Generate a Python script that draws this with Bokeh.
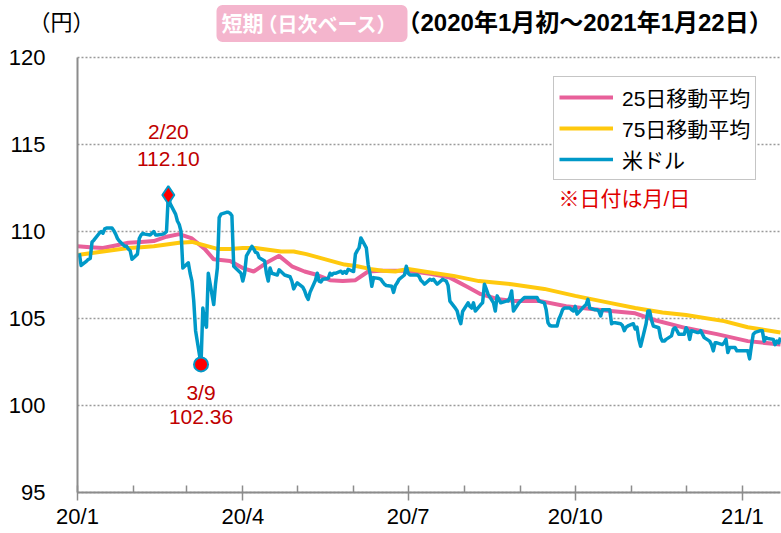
import pandas as pd
from bokeh.plotting import figure
from bokeh.models import (ColumnDataSource, Range1d, FixedTicker, Label, Legend, LegendItem)
from bokeh.embed import file_html
from bokeh.resources import INLINE

# ---------------- data ----------------
usd_dates = [
    "2020-01-02", "2020-01-03", "2020-01-06", "2020-01-07", "2020-01-08", "2020-01-09", "2020-01-10",
    "2020-01-13", "2020-01-14", "2020-01-15", "2020-01-16", "2020-01-17", "2020-01-20", "2020-01-21",
    "2020-01-22", "2020-01-23", "2020-01-24", "2020-01-27", "2020-01-28", "2020-01-29", "2020-01-30",
    "2020-01-31", "2020-02-03", "2020-02-04", "2020-02-05", "2020-02-06", "2020-02-07", "2020-02-10",
    "2020-02-11", "2020-02-12", "2020-02-13", "2020-02-14", "2020-02-17", "2020-02-18", "2020-02-19",
    "2020-02-20", "2020-02-21", "2020-02-24", "2020-02-25", "2020-02-26", "2020-02-27", "2020-02-28",
    "2020-03-02", "2020-03-03", "2020-03-04", "2020-03-05", "2020-03-06", "2020-03-09", "2020-03-10",
    "2020-03-11", "2020-03-12", "2020-03-13", "2020-03-16", "2020-03-17", "2020-03-18", "2020-03-19",
    "2020-03-20", "2020-03-23", "2020-03-24", "2020-03-25", "2020-03-26", "2020-03-27", "2020-03-30",
    "2020-03-31", "2020-04-01", "2020-04-02", "2020-04-03", "2020-04-06", "2020-04-07", "2020-04-08",
    "2020-04-09", "2020-04-10", "2020-04-13", "2020-04-14", "2020-04-15", "2020-04-16", "2020-04-17",
    "2020-04-20", "2020-04-21", "2020-04-22", "2020-04-23", "2020-04-24", "2020-04-27", "2020-04-28",
    "2020-04-29", "2020-04-30", "2020-05-01", "2020-05-04", "2020-05-05", "2020-05-06", "2020-05-07",
    "2020-05-08", "2020-05-11", "2020-05-12", "2020-05-13", "2020-05-14", "2020-05-15", "2020-05-18",
    "2020-05-19", "2020-05-20", "2020-05-21", "2020-05-22", "2020-05-25", "2020-05-26", "2020-05-27",
    "2020-05-28", "2020-05-29", "2020-06-01", "2020-06-02", "2020-06-03", "2020-06-04", "2020-06-05",
    "2020-06-08", "2020-06-09", "2020-06-10", "2020-06-11", "2020-06-12", "2020-06-15", "2020-06-16",
    "2020-06-17", "2020-06-18", "2020-06-19", "2020-06-22", "2020-06-23", "2020-06-24", "2020-06-25",
    "2020-06-26", "2020-06-29", "2020-06-30", "2020-07-01", "2020-07-02", "2020-07-03", "2020-07-06",
    "2020-07-07", "2020-07-08", "2020-07-09", "2020-07-10", "2020-07-13", "2020-07-14", "2020-07-15",
    "2020-07-16", "2020-07-17", "2020-07-20", "2020-07-21", "2020-07-22", "2020-07-23", "2020-07-24",
    "2020-07-27", "2020-07-28", "2020-07-29", "2020-07-30", "2020-07-31", "2020-08-03", "2020-08-04",
    "2020-08-05", "2020-08-06", "2020-08-07", "2020-08-10", "2020-08-11", "2020-08-12", "2020-08-13",
    "2020-08-14", "2020-08-17", "2020-08-18", "2020-08-19", "2020-08-20", "2020-08-21", "2020-08-24",
    "2020-08-25", "2020-08-26", "2020-08-27", "2020-08-28", "2020-08-31", "2020-09-01", "2020-09-02",
    "2020-09-03", "2020-09-04", "2020-09-07", "2020-09-08", "2020-09-09", "2020-09-10", "2020-09-11",
    "2020-09-14", "2020-09-15", "2020-09-16", "2020-09-17", "2020-09-18", "2020-09-21", "2020-09-22",
    "2020-09-23", "2020-09-24", "2020-09-25", "2020-09-28", "2020-09-29", "2020-09-30", "2020-10-01",
    "2020-10-02", "2020-10-05", "2020-10-06", "2020-10-07", "2020-10-08", "2020-10-09", "2020-10-12",
    "2020-10-13", "2020-10-14", "2020-10-15", "2020-10-16", "2020-10-19", "2020-10-20", "2020-10-21",
    "2020-10-22", "2020-10-23", "2020-10-26", "2020-10-27", "2020-10-28", "2020-10-29", "2020-10-30",
    "2020-11-02", "2020-11-03", "2020-11-04", "2020-11-05", "2020-11-06", "2020-11-09", "2020-11-10",
    "2020-11-11", "2020-11-12", "2020-11-13", "2020-11-16", "2020-11-17", "2020-11-18", "2020-11-19",
    "2020-11-20", "2020-11-23", "2020-11-24", "2020-11-25", "2020-11-26", "2020-11-27", "2020-11-30",
    "2020-12-01", "2020-12-02", "2020-12-03", "2020-12-04", "2020-12-07", "2020-12-08", "2020-12-09",
    "2020-12-10", "2020-12-11", "2020-12-14", "2020-12-15", "2020-12-16", "2020-12-17", "2020-12-18",
    "2020-12-21", "2020-12-22", "2020-12-23", "2020-12-24", "2020-12-25", "2020-12-28", "2020-12-29",
    "2020-12-30", "2021-01-04", "2021-01-05", "2021-01-06", "2021-01-07", "2021-01-08", "2021-01-11",
    "2021-01-12", "2021-01-13", "2021-01-14", "2021-01-15", "2021-01-18", "2021-01-19", "2021-01-20",
    "2021-01-21", "2021-01-22",
]
usd_values = [
    108.75, 108.05, 108.30, 108.40, 108.45, 109.40, 109.50,
    109.90, 110.00, 109.90, 110.15, 110.20, 110.20, 110.05,
    109.85, 109.60, 109.45, 109.15, 109.15, 109.00, 108.90,
    108.40, 108.70, 109.60, 109.80, 109.90, 109.85, 109.80,
    109.90, 110.00, 109.80, 109.80, 109.85, 109.90, 110.00,
    112.10, 111.60, 111.00, 110.60, 110.40, 110.00, 107.90,
    108.20, 107.60, 107.15, 106.00, 104.30, 102.36, 105.60,
    104.80, 104.50, 107.60, 105.80, 107.00, 107.90, 110.80,
    111.00, 111.10, 111.10, 111.05, 110.90, 108.00, 107.70,
    107.60, 107.15, 107.60, 108.60, 109.15, 109.00, 108.80,
    108.77, 108.50, 108.30, 107.60, 107.15, 107.90, 107.60,
    107.50, 107.80, 107.70, 107.60, 107.50, 107.40, 107.15,
    106.70, 106.90, 107.05, 106.80, 106.60, 106.30, 106.10,
    106.50, 107.20, 107.60, 107.15, 107.10, 107.25, 107.30,
    107.60, 107.50, 107.60, 107.60, 107.72, 107.60, 107.70,
    107.60, 107.83, 107.70, 108.70, 108.90, 109.06, 109.63,
    109.06, 108.10, 107.60, 106.85, 107.35, 107.30, 107.25,
    107.10, 106.97, 106.90, 106.85, 106.50, 106.90, 107.05,
    107.25, 107.50, 108.00, 107.60, 107.50, 107.50, 107.50,
    107.43, 107.20, 107.10, 106.97, 107.25, 107.20, 107.25,
    107.10, 106.97, 107.25, 107.20, 107.15, 106.90, 106.00,
    105.60, 105.43, 105.00, 104.70, 105.40, 105.90, 105.70,
    105.60, 105.90, 105.43, 105.80, 105.90, 106.97, 106.70,
    106.40, 105.90, 105.43, 106.30, 106.10, 105.90, 106.00,
    106.00, 106.20, 106.58, 105.43, 105.90, 106.00, 106.10,
    106.20, 106.20, 106.20, 106.20, 106.20, 106.20, 106.00,
    105.90, 105.50, 104.76, 104.60, 104.57, 104.57, 104.97,
    105.20, 105.50, 105.60, 105.60, 105.50, 105.43, 105.70,
    105.25, 105.60, 105.70, 105.80, 106.10, 105.60, 105.50,
    105.50, 105.43, 105.15, 105.50, 105.50, 105.50, 104.70,
    104.76, 104.76, 104.70, 104.60, 104.30, 104.50, 104.57,
    104.70, 104.40, 104.50, 103.80, 103.40, 104.70, 105.43,
    105.43, 104.90, 104.57, 104.47, 103.90, 103.70, 103.70,
    103.80, 104.00, 104.40, 104.47, 104.30, 104.10, 104.10,
    104.47, 104.30, 103.80, 104.30, 104.20, 104.20, 104.30,
    104.10, 103.90, 103.70, 103.50, 103.14, 103.60, 103.60,
    103.50, 103.60, 103.80, 103.04, 103.33, 103.33, 103.14,
    103.14, 103.14, 102.68, 103.43, 104.10, 104.20, 104.30,
    104.30, 103.70, 103.90, 103.85, 103.80, 103.50, 103.70,
    103.60, 103.90,
]

ma25_dates = [
    "2020-01-01", "2020-01-08", "2020-01-15", "2020-01-22", "2020-01-29", "2020-02-05", "2020-02-12",
    "2020-02-19", "2020-02-26", "2020-03-04", "2020-03-11", "2020-03-16", "2020-03-25", "2020-04-01",
    "2020-04-07", "2020-04-14", "2020-04-21", "2020-04-28", "2020-05-05", "2020-05-12", "2020-05-19",
    "2020-05-26", "2020-06-02", "2020-06-09", "2020-06-16", "2020-06-23", "2020-06-30", "2020-07-07",
    "2020-07-14", "2020-07-24", "2020-08-03", "2020-08-10", "2020-08-20", "2020-08-29", "2020-09-12",
    "2020-09-26", "2020-10-19", "2020-11-03", "2020-11-14", "2020-12-01", "2020-12-18", "2021-01-04",
    "2021-01-22",
]
ma25_values = [
    109.15, 109.10, 109.05, 109.20, 109.35, 109.40, 109.45,
    109.70, 109.85, 109.60, 109.00, 108.40, 108.30, 107.90,
    107.70, 108.20, 108.60, 108.00, 107.70, 107.50, 107.20,
    107.15, 107.20, 107.70, 107.75, 107.75, 107.75, 107.65,
    107.55, 107.35, 106.80, 106.40, 106.10, 106.00, 106.00,
    105.70, 105.45, 105.30, 104.90, 104.45, 104.10, 103.70,
    103.50,
]

ma75_dates = [
    "2020-01-01", "2020-01-08", "2020-01-15", "2020-01-22", "2020-01-29", "2020-02-05", "2020-02-12",
    "2020-02-19", "2020-02-26", "2020-03-04", "2020-03-11", "2020-03-18", "2020-03-25", "2020-04-01",
    "2020-04-08", "2020-04-15", "2020-04-22", "2020-04-29", "2020-05-06", "2020-05-13", "2020-05-20",
    "2020-05-27", "2020-06-03", "2020-06-10", "2020-06-17", "2020-06-24", "2020-07-01", "2020-07-15",
    "2020-07-26", "2020-08-09", "2020-08-27", "2020-09-14", "2020-10-01", "2020-10-20", "2020-11-03",
    "2020-11-18", "2020-12-01", "2020-12-22", "2021-01-04", "2021-01-22",
]
ma75_values = [
    108.65, 108.75, 108.85, 108.95, 109.05, 109.10, 109.15,
    109.25, 109.35, 109.40, 109.20, 109.00, 109.00, 109.05,
    109.05, 108.95, 108.85, 108.85, 108.70, 108.50, 108.30,
    108.10, 108.00, 107.85, 107.75, 107.70, 107.85, 107.62,
    107.45, 107.15, 106.97, 106.70, 106.30, 105.90, 105.60,
    105.35, 105.20, 104.85, 104.50, 104.20,
]

peak_date, peak_value, peak_text = "2020-02-20", 112.10, "2/20"
low_date, low_value, low_text = "2020-03-09", 102.36, "3/9"

y_ticks = [95, 100, 105, 110, 115, 120]
x_first, x_last = "2020-01-01", "2021-01-22"
x_tick_dates = ["2020-01-01", "2020-04-01", "2020-07-01", "2020-10-01", "2021-01-01"]
x_tick_labels = ["20/1", "20/4", "20/7", "20/10", "21/1"]
x_minor_dates = ["2020-02-01", "2020-03-01", "2020-05-01", "2020-06-01", "2020-08-01",
                 "2020-09-01", "2020-11-01", "2020-12-01"]

series_names = ["25日移動平均", "75日移動平均", "米ドル"]
unit_text = "（円）"
badge_main, badge_sub = "短期", "（日次ベース）"
period_text = "（2020年1月初～2021年1月22日）"
note_text = "※日付は月/日"
# ------------------------------------------------------------

PINK = "#E8609A"
YELLOW = "#FFC90E"
BLUE = "#0099C8"
GRAY = "#8C8C8C"
FONT = "Liberation Sans, Noto Sans CJK JP"

W, H = 781, 533
# where the plotting area sits on the canvas (pixels)
PX_LEFT, PX_RIGHT, PX_TOP, PX_BOTTOM = 77, 780, 57, 492


def ms(d):
    return pd.Timestamp(d).value / 1e6


# ranges chosen so the plotting frame fills the whole canvas and the
# axes (fixed_location) sit where the reference draws them
x0, x1 = ms(x_first), ms(x_last)
ms_per_px = (x1 - x0) / (PX_RIGHT - PX_LEFT)
y_lo, y_hi = y_ticks[0], y_ticks[-1]
val_per_px = (y_hi - y_lo) / (PX_BOTTOM - PX_TOP)

p = figure(width=W, height=H, x_axis_type="datetime",
           x_range=Range1d(x0 - PX_LEFT * ms_per_px, x1 + (W - PX_RIGHT) * ms_per_px),
           y_range=Range1d(y_lo - (H - PX_BOTTOM) * val_per_px, y_hi + PX_TOP * val_per_px),
           output_backend="svg", toolbar_location=None,
           min_border_left=0, min_border_right=0, min_border_top=0, min_border_bottom=0)
p.outline_line_color = None
p.background_fill_color = "white"

# grid
p.xgrid.grid_line_color = None
p.ygrid.grid_line_color = "#9A9A9A"
p.ygrid.grid_line_dash = "2 2"
p.ygrid.grid_line_width = 1.5
p.ygrid.ticker = FixedTicker(ticks=y_ticks)
p.ygrid.bounds = (y_lo, y_hi)
p.ygrid.cross_bounds = (x0, x1)

# axes
p.yaxis.fixed_location = x0
p.yaxis.bounds = (y_lo, y_hi)
p.yaxis.ticker = FixedTicker(ticks=y_ticks)
p.yaxis.axis_line_color = GRAY
p.yaxis.axis_line_width = 2
p.yaxis.major_tick_line_color = None
p.yaxis.minor_tick_line_color = None
p.yaxis.major_label_text_font = FONT
p.yaxis.major_label_text_font_size = "22px"
p.yaxis.major_label_text_color = "black"
p.yaxis.major_label_standoff = 26

p.xaxis.fixed_location = y_lo
p.xaxis.bounds = (x0, x1)
p.xaxis.ticker = FixedTicker(ticks=[ms(d) for d in x_tick_dates],
                             minor_ticks=[ms(d) for d in x_minor_dates])
p.xaxis.major_label_overrides = {ms(d): t for d, t in zip(x_tick_dates, x_tick_labels)}
p.xaxis.axis_line_color = GRAY
p.xaxis.axis_line_width = 2
p.xaxis.major_tick_line_color = GRAY
p.xaxis.major_tick_line_width = 1.5
p.xaxis.major_tick_in = 7
p.xaxis.major_tick_out = 8
p.xaxis.minor_tick_line_color = GRAY
p.xaxis.minor_tick_line_width = 1.5
p.xaxis.minor_tick_in = 7
p.xaxis.minor_tick_out = 0
p.xaxis.major_label_text_font = FONT
p.xaxis.major_label_text_font_size = "22px"
p.xaxis.major_label_text_color = "black"
p.xaxis.major_label_standoff = 3

# lines
src_usd = ColumnDataSource(dict(x=pd.to_datetime(usd_dates), y=usd_values))
src_25 = ColumnDataSource(dict(x=pd.to_datetime(ma25_dates), y=ma25_values))
src_75 = ColumnDataSource(dict(x=pd.to_datetime(ma75_dates), y=ma75_values))
r25 = p.line("x", "y", source=src_25, color=PINK, line_width=4)
r75 = p.line("x", "y", source=src_75, color=YELLOW, line_width=4)
rusd = p.line("x", "y", source=src_usd, color=BLUE, line_width=3.5, line_join="round")

# highlight markers
p.scatter(x=[pd.Timestamp(peak_date)], y=[peak_value], marker="diamond", size=18,
          fill_color="#FF0000", line_color=BLUE, line_width=2)
p.scatter(x=[pd.Timestamp(low_date)], y=[low_value], marker="circle", size=14,
          fill_color="#FF0000", line_color=BLUE, line_width=2)

ANN = "#C00000"
for txt, off in [(peak_text, 63), (f"{peak_value:.2f}", 36)]:
    p.add_layout(Label(x=ms(peak_date), y=peak_value, text=txt, y_offset=off,
                       text_align="center", text_baseline="middle", text_color=ANN,
                       text_font=FONT, text_font_size="21px"))
for txt, off in [(low_text, -28), (f"{low_value:.2f}", -53)]:
    p.add_layout(Label(x=ms(low_date), y=low_value, text=txt, y_offset=off,
                       text_align="center", text_baseline="middle", text_color=ANN,
                       text_font=FONT, text_font_size="21px"))

# legend
legend = Legend(items=[LegendItem(label=series_names[0], renderers=[r25]),
                       LegendItem(label=series_names[1], renderers=[r75]),
                       LegendItem(label=series_names[2], renderers=[rusd])],
                location=(553, H - 180))
legend.border_line_color = "#8C8C8C"
legend.border_line_width = 1.5
legend.background_fill_color = "white"
legend.background_fill_alpha = 1
legend.label_text_font = FONT
legend.label_text_font_size = "21px"
legend.label_text_color = "black"
legend.glyph_width = 54
legend.glyph_height = 22
legend.label_height = 22
legend.label_standoff = 9
legend.spacing = 1
legend.padding = 5
legend.margin = 0
p.add_layout(legend, "center")

# note (screen units are measured from the frame's bottom-left = canvas bottom-left)
p.add_layout(Label(x=558, y=H - 198, x_units="screen", y_units="screen", text=note_text,
                   text_baseline="middle", text_color="#E00000", text_font=FONT,
                   text_font_size="21px"))

# header
p.add_layout(Label(x=28, y=H - 22, x_units="screen", y_units="screen", text=unit_text,
                   text_baseline="middle", text_color="black", text_font=FONT,
                   text_font_size="22px"))
p.add_layout(Label(x=216, y=H - 23, x_units="screen", y_units="screen", text=badge_main,
                   text_baseline="middle", text_color="white", text_font=FONT,
                   text_font_style="bold", text_font_size="21px",
                   background_fill_color="#F4B5CD", border_radius=6,
                   padding=dict(left=5, right=144, top=7, bottom=7)))
p.add_layout(Label(x=257, y=H - 24, x_units="screen", y_units="screen", text=badge_sub,
                   text_baseline="middle", text_color="white", text_font=FONT,
                   text_font_style="bold", text_font_size="20px"))
p.add_layout(Label(x=396, y=H - 22, x_units="screen", y_units="screen", text=period_text,
                   text_baseline="middle", text_color="black", text_font=FONT,
                   text_font_style="bold", text_font_size="24px"))

open("out.html", "w").write(file_html(p, INLINE))
